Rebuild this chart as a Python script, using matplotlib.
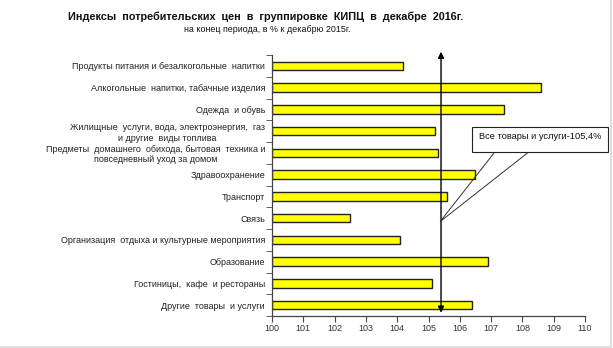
import matplotlib
matplotlib.use("Agg")
import matplotlib.pyplot as plt
from matplotlib.patches import Rectangle, Polygon
from matplotlib.lines import Line2D

plt.rcParams['font.family'] = ['Liberation Sans', 'DejaVu Sans']

categories = [
    "Продукты питания и безалкогольные  напитки",
    "Алкогольные  напитки, табачные изделия",
    "Одежда  и обувь",
    "Жилищные  услуги, вода, электроэнергия,  газ\nи другие  виды топлива",
    "Предметы  домашнего  обихода, бытовая  техника и\nповседневный уход за домом",
    "Здравоохранение",
    "Транспорт",
    "Связь",
    "Организация  отдыха и культурные мероприятия",
    "Образование",
    "Гостиницы,  кафе  и рестораны",
    "Другие  товары  и услуги",
]
values = [104.2, 108.6, 107.4, 105.2, 105.3, 106.5, 105.6, 102.5, 104.1, 106.9, 105.1, 106.4]
total_value = 105.4
total_label = "Все товары и услуги-105,4%"
xticks = list(range(100, 111))

fig = plt.figure(figsize=(6.13, 3.48), dpi=100)
ax = fig.add_axes([272/613, 1-316/348, (585-272)/613, (316-55)/348])

y = list(range(len(categories)))
ax.barh(y, [v - 100 for v in values], left=100, height=0.4,
        color='#FFFF00', edgecolor='#222222', linewidth=1.0, zorder=2)

ax.set_xlim(100, 110)
ax.set_ylim(len(categories) - 0.5, -0.5)
ax.set_xticks(xticks)
ax.set_xticklabels([str(t) for t in xticks], fontsize=6.5, color='#333333')
ax.set_yticks(y)
ax.set_yticklabels(categories, fontsize=6.5, color='#222222', multialignment='center')
ax.tick_params(axis='y', length=0, pad=5)
ax.set_yticks([i + 0.5 for i in range(-1, len(categories))], minor=True)
ax.tick_params(axis='y', which='minor', length=4, direction='out', color='#444444')
ax.tick_params(axis='x', length=4, direction='out', color='#444444', pad=2)
for s in ['top', 'right']:
    ax.spines[s].set_visible(False)
for s in ['left', 'bottom']:
    ax.spines[s].set_color('#444444')
    ax.spines[s].set_linewidth(0.9)

# vertical double-headed arrow at total value
ax.annotate('', xy=(total_value, -0.65), xytext=(total_value, 11.35),
            arrowprops=dict(arrowstyle='<|-|>', color='black', lw=1.0,
                            mutation_scale=9, shrinkA=0, shrinkB=0),
            annotation_clip=False, zorder=4)

# callout box
bx0, bx1, by0, by1 = 106.40, 110.75, 2.80, 3.94
tip = (105.37, 7.16)
ax.add_patch(Polygon([(107.13, by1), tip, (108.22, by1)], closed=False,
                     facecolor='none', edgecolor='#333333', lw=0.7,
                     clip_on=False, zorder=5))
ax.add_patch(Rectangle((bx0, by0), bx1 - bx0, by1 - by0, facecolor='white',
                       edgecolor='#222222', lw=0.8, clip_on=False, zorder=6))
ax.text(106.62, (by0 + by1) / 2 - 0.1, total_label, fontsize=6.7, va='center',
        ha='left', color='#111111', zorder=7)

fig.text(0.433, 1-17/348, "Индексы  потребительских  цен  в  группировке  КИПЦ  в  декабре  2016г.",
         ha='center', va='center', fontsize=7.8, fontweight='bold', color='#111111')
fig.text(0.436, 1-30/348, "на конец периода, в % к декабрю 2015г.",
         ha='center', va='center', fontsize=6.4, color='#111111')

fig.lines.append(Line2D([0, 0.9975, 0.9975], [0.004, 0.004, 1.0], transform=fig.transFigure,
                        color='#d8d8d8', lw=1.2))

fig.savefig('out.png', dpi=100)
